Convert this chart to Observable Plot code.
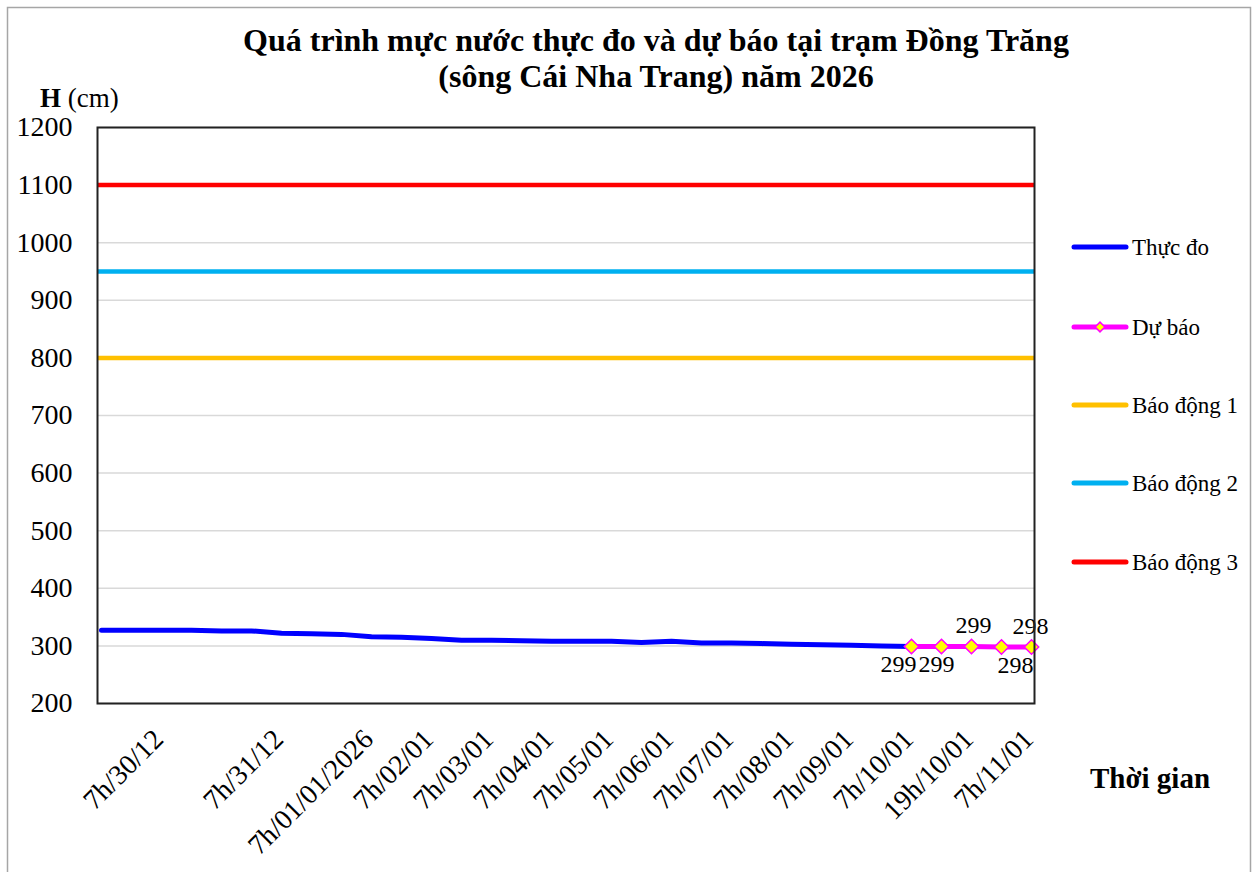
<!DOCTYPE html>
<html><head><meta charset="utf-8">
<script src="https://cdn.jsdelivr.net/npm/d3@7"></script>
<script src="https://cdn.jsdelivr.net/npm/@observablehq/plot@0.6"></script>
<style>
html,body{margin:0;padding:0;background:#fff;}
#chart{width:1255px;height:872px;overflow:hidden;}
#chart svg, #chart svg g, #chart svg text{font-family:'Liberation Serif','Times New Roman',serif !important;}
</style></head><body><div id="chart"></div>
<script>
// ---- data ----
const titleLines = ["Quá trình mực nước thực đo và dự báo tại trạm Đồng Trăng", "(sông Cái Nha Trang) năm 2026"];
const yLabelBold = "H";
const yLabelUnit = " (cm)";
const xAxisTitle = "Thời gian";
// one entry per category on the x axis; "" = unlabeled category
const xTickLabels = ["", "", "7h/30/12", "", "", "", "7h/31/12", "", "", "7h/01/01/2026", "", "7h/02/01", "", "7h/03/01", "", "7h/04/01", "", "7h/05/01", "", "7h/06/01", "", "7h/07/01", "", "7h/08/01", "", "7h/09/01", "", "7h/10/01", "", "19h/10/01", "", "7h/11/01"];
const observed = [327, 327, 327, 327, 326, 326, 322, 321, 320, 316, 315, 313, 310, 310, 309, 308, 308, 308, 306, 308, 305, 305, 304, 303, 302, 301, 300, 299];
const forecast = [299, 299, 299, 298, 298];
const seriesNames = ["Thực đo", "Dự báo", "Báo động 1", "Báo động 2", "Báo động 3"];
const alarmLevels = [800, 950, 1100];
const yTicks = [200, 300, 400, 500, 600, 700, 800, 900, 1000, 1100, 1200];

// ---- drawing ----
const colors = ["#0000FF", "#FF00FF", "#FFC000", "#00B0F0", "#FF0000"];
const font = "'Liberation Serif','Times New Roman',serif";
const W = 1255, H = 872;
const obs = observed.map((v, i) => ({i, v}));
const fStart = observed.length - 1;
const fc = forecast.map((v, k) => ({i: fStart + k, v}));
const xDomain = d3.range(xTickLabels.length);
const tickIdx = xDomain.filter(i => xTickLabels[i] !== "");
const labelPlace = [{dx: -13, dy: 18}, {dx: -5, dy: 18}, {dx: 2, dy: -21}, {dx: 14, dy: 18}, {dx: -1, dy: -21}];

const plot = Plot.plot({
  width: W, height: H,
  marginLeft: 97, marginRight: 221, marginTop: 127, marginBottom: 169,
  style: {fontFamily: font, background: "transparent", color: "#000", overflow: "visible"},
  x: {type: "point", domain: xDomain, padding: 0},
  y: {domain: [200, 1200]},
  marks: [
    Plot.gridY(yTicks, {stroke: "#d9d9d9", strokeOpacity: 1, strokeWidth: 1.5}),
    ...alarmLevels.map((a, k) => Plot.ruleY([a], {stroke: colors[2 + k], strokeWidth: 4.5})),
    Plot.line(obs, {x: "i", y: "v", stroke: colors[0], strokeWidth: 5}),
    Plot.line(fc, {x: "i", y: "v", stroke: colors[1], strokeWidth: 5}),
    Plot.dot(fc, {x: "i", y: "v", symbol: "diamond2", r: 6.5, fill: "#FFFF00", stroke: colors[1], strokeWidth: 1.5}),
    ...fc.map((d, k) => Plot.text([d], {x: "i", y: "v", text: d => String(d.v), dx: labelPlace[k].dx, dy: labelPlace[k].dy, fontSize: 24, fontFamily: font, fill: "#000"})),
    Plot.frame({stroke: "#222", strokeWidth: 2}),
    Plot.axisY(yTicks, {tickSize: 0, tickPadding: 25, fontSize: 28, fontFamily: font, fill: "#000", tickFormat: d => String(d), label: null}),
    Plot.axisX(tickIdx, {tickSize: 0, tickPadding: 31, tickRotate: -45, dx: -3, fontSize: 28, fontFamily: font, fill: "#000", tickFormat: i => xTickLabels[i], label: null})
  ]
});
document.getElementById("chart").appendChild(plot);

const svg = d3.select(plot);
svg.append("rect").attr("x", 7.5).attr("y", 7.5).attr("width", 1243).attr("height", 900)
  .attr("fill", "none").attr("stroke", "#a6a6a6").attr("stroke-width", 1.5);
const t = svg.append("g").attr("font-family", font).attr("fill", "#000").attr("text-anchor", "start");
titleLines.forEach((s, k) => t.append("text").attr("x", 656).attr("y", 40 + k * 36)
  .attr("text-anchor", "middle").attr("dominant-baseline", "central")
  .attr("font-size", 32).attr("font-weight", "bold").text(s));
const yl = t.append("text").attr("x", 40).attr("y", 98).attr("text-anchor", "start").attr("dominant-baseline", "central").attr("font-size", 27);
yl.append("tspan").attr("font-weight", "bold").text(yLabelBold);
yl.append("tspan").text(yLabelUnit);
t.append("text").attr("x", 1150).attr("y", 778).attr("text-anchor", "middle").attr("dominant-baseline", "central")
  .attr("font-size", 29).attr("font-weight", "bold").text(xAxisTitle);
const legY = [247, 327, 405, 483, 562];
seriesNames.forEach((n, k) => {
  t.append("line").attr("x1", 1074).attr("x2", 1126).attr("y1", legY[k]).attr("y2", legY[k])
    .attr("stroke", colors[k]).attr("stroke-width", 5).attr("stroke-linecap", "round");
  if (k === 1) {
    t.append("path").attr("d", d3.symbol(d3.symbolDiamond2, 60)()).attr("transform", `translate(1100,${legY[k]})`)
      .attr("fill", "#FFFF00").attr("stroke", colors[1]).attr("stroke-width", 1.5);
  }
  t.append("text").attr("x", 1132).attr("y", legY[k]).attr("text-anchor", "start").attr("dominant-baseline", "central").attr("font-size", 23).text(n);
});
</script></body></html>
